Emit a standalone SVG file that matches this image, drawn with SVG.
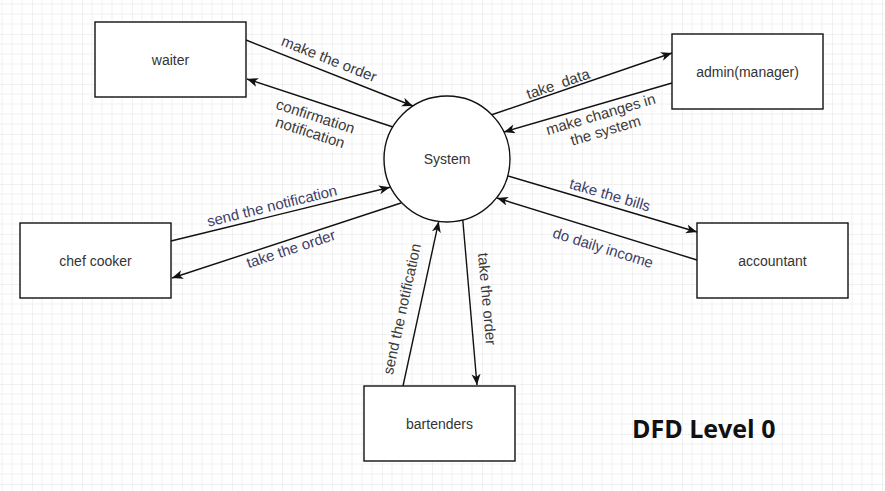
<svg xmlns="http://www.w3.org/2000/svg" width="885" height="491" viewBox="0 0 885 491">
<style>
.box{fill:#fff;stroke:#111;stroke-width:1.4}
.nt{font-family:"Liberation Sans",Arial,sans-serif;font-size:14px;fill:#333;text-anchor:middle}
.el{font-family:"Liberation Sans",Arial,sans-serif;font-size:15px;fill:#3a3a3a;text-anchor:middle}
.eb{font-family:"Liberation Sans",Arial,sans-serif;font-size:15px;fill:#3e3e68;text-anchor:middle}
.ln{fill:none;stroke:#111;stroke-width:1.4;marker-end:url(#arr)}
</style>
<defs>
<pattern id="grid" patternUnits="userSpaceOnUse" x="32" y="34" width="50" height="50">
<path d="M10,0V50M20,0V50M30,0V50M40,0V50M0,10H50M0,20H50M0,30H50M0,40H50" stroke="#f1f1f1" stroke-width="1"/>
<path d="M0,0V50M0,0H50" stroke="#e3e3e3" stroke-width="1"/>
</pattern>
<marker id="arr" markerUnits="userSpaceOnUse" markerWidth="12" markerHeight="10" refX="11" refY="4.5" orient="auto">
<path d="M0,0 L11,4.5 L0,9 L3,4.5 Z" fill="#111"/>
</marker>
</defs>
<rect width="885" height="491" fill="#fff"/>
<rect width="885" height="491" fill="url(#grid)"/>

<g id="connectors">
<g id="e1"><path class="ln" d="M246,40 L413,106"/><text class="el" transform="translate(329,59) rotate(21.6)" y="5">make the order</text></g>
<g id="e2"><path class="ln" d="M393,127 L247,79"/><text class="el" transform="translate(313,124) rotate(18)"><tspan x="0" y="-3">confirmation</tspan><tspan x="0" y="14">notification</tspan></text></g>
<g id="e3"><path class="ln" d="M491,115 L672,53"/><text class="el" xml:space="preserve" transform="translate(558,84) rotate(-18.9)" y="5">take  data</text></g>
<g id="e4"><path class="ln" d="M672,83 L504,132"/><text class="el" transform="translate(603,122) rotate(-16.4)"><tspan x="0" y="-3">make changes in</tspan><tspan x="0" y="14">the system</tspan></text></g>
<g id="e5"><path class="ln" d="M171,241 L390,187.3"/><text class="eb" transform="translate(272,206) rotate(-13.8)" y="5">send the notification</text></g>
<g id="e6"><path class="ln" d="M401,203 L172,278"/><text class="eb" transform="translate(291,249) rotate(-18.2)" y="5">take the order</text></g>
<g id="e7"><path class="ln" d="M508,176 L697,232"/><text class="eb" transform="translate(610,195) rotate(16.5)" y="5">take the bills</text></g>
<g id="e8"><path class="ln" d="M697,260 L497,198"/><text class="eb" transform="translate(603,248) rotate(17.2)" y="5">do daily income</text></g>
<g id="e9"><path class="ln" d="M403,386 L438.7,221.5"/><text class="el" transform="translate(402,309) rotate(-77.7)" y="5">send the notification</text></g>
<g id="e10"><path class="ln" d="M462.8,220 L477,385"/><text class="el" transform="translate(487,299) rotate(85)" y="5">take the order</text></g>
</g>

<g id="waiter"><rect class="box" x="95" y="22" width="151" height="75"/><text class="nt" x="170.5" y="65">waiter</text></g>
<g id="admin"><rect class="box" x="672" y="34" width="151" height="75"/><text class="nt" x="747.5" y="77">admin(manager)</text></g>
<g id="chef"><rect class="box" x="20" y="223" width="151" height="75"/><text class="nt" x="95.5" y="266">chef cooker</text></g>
<g id="accountant"><rect class="box" x="697" y="223" width="151" height="75"/><text class="nt" x="772.5" y="266">accountant</text></g>
<g id="bartenders"><rect class="box" x="364" y="386" width="151" height="75"/><text class="nt" x="439.5" y="429">bartenders</text></g>
<g id="system"><circle class="box" cx="447" cy="159" r="63"/><text class="nt" x="447" y="164">System</text></g>

<text x="632" y="438" font-family="'Open Sans','Noto Sans',sans-serif" font-weight="700" font-size="25" fill="#111">DFD Level 0</text>
</svg>
